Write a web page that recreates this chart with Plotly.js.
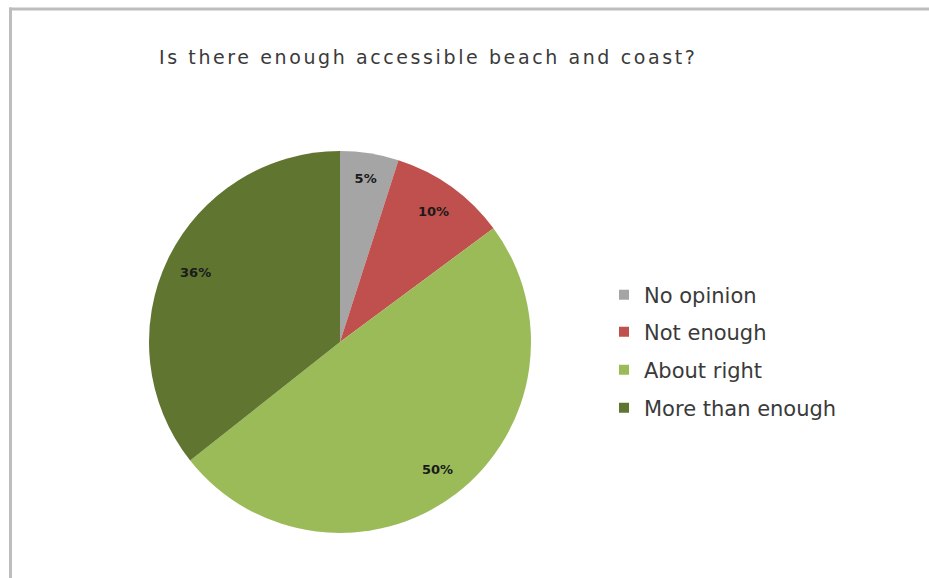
<!DOCTYPE html>
<html>
<head>
<meta charset="utf-8">
<script src="https://cdn.plot.ly/plotly-3.0.1.min.js"></script>
<style>
html,body{margin:0;padding:0;background:#fff;}
#chart{width:929px;height:578px;}
#chart .gtitle{letter-spacing:2.6px;}
</style>
</head>
<body>
<div id="chart"></div>
<script>
// ---- data ----
const categories = ["No opinion", "Not enough", "About right", "More than enough"];
const values = [5, 10, 50, 36];
const colors = ["#a5a5a5", "#c0504d", "#9bbb59", "#5f7530"];
const titleText = "Is there enough accessible beach and coast?";

const W = 929, H = 578;
const FONT = "DejaVu Sans, sans-serif";

// pie geometry (px)
const cx = 340, cy = 342, R = 191;
const dom = {
  x: [(cx - R) / W, (cx + R) / W],
  y: [1 - (cy + R) / H, 1 - (cy - R) / H]
};

const traces = [];
// base pie (colours)
traces.push({
  type: "pie",
  labels: categories,
  values: values,
  sort: false,
  direction: "clockwise",
  rotation: 0,
  marker: {colors: colors, line: {width: 0}},
  textinfo: "none",
  hoverinfo: "label+percent",
  showlegend: false,
  domain: dom
});
// transparent ring overlay holding the percentage labels
traces.push({
  type: "pie",
  labels: categories,
  values: values,
  sort: false,
  direction: "clockwise",
  rotation: 0,
  hole: 0.68,
  marker: {colors: categories.map(() => "rgba(0,0,0,0)"), line: {width: 0}},
  texttemplate: "%{percent:.0%}",
  textposition: "inside",
  insidetextorientation: "horizontal",
  insidetextfont: {family: FONT, size: 13, color: "#1a1a1a", weight: "bold"},
  hoverinfo: "skip",
  showlegend: false,
  domain: dom
});

// legend entries (one legend each so spacing matches)
const legendY = [295, 332, 370, 408];
const layoutLegends = {};
categories.forEach((c, i) => {
  const key = i === 0 ? "legend" : "legend" + (i + 1);
  traces.push({
    type: "scatter",
    x: [null], y: [null],
    mode: "markers",
    name: c,
    marker: {symbol: "square", size: 10, color: colors[i]},
    showlegend: true,
    legend: key,
    hoverinfo: "skip"
  });
  layoutLegends[key] = {
    x: 604 / W, xanchor: "left",
    y: 1 - legendY[i] / H, yanchor: "middle",
    bgcolor: "rgba(0,0,0,0)",
    borderwidth: 0,
    font: {family: FONT, size: 21, color: "#3a3a3a"}
  };
});

const layout = Object.assign({
  width: W, height: H,
  margin: {l: 0, r: 0, t: 0, b: 0},
  paper_bgcolor: "#ffffff",
  plot_bgcolor: "rgba(0,0,0,0)",
  title: {
    text: titleText,
    font: {family: FONT, size: 19, color: "#3a3a3a"},
    x: 159 / W, xanchor: "left", xref: "container",
    y: 1 - 57 / H, yanchor: "middle", yref: "container"
  },
  xaxis: {visible: false},
  yaxis: {visible: false},
  shapes: [
    {type: "line", xref: "paper", yref: "paper", x0: 9 / W, x1: 1, y0: 1 - 9 / H, y1: 1 - 9 / H,
     line: {color: "#bdbdbd", width: 3}},
    {type: "line", xref: "paper", yref: "paper", x0: 10.5 / W, x1: 10.5 / W, y0: 0, y1: 1 - 7.5 / H,
     line: {color: "#bdbdbd", width: 3}}
  ]
}, layoutLegends);

Plotly.newPlot("chart", traces, layout, {displayModeBar: false, staticPlot: true});
</script>
</body>
</html>
